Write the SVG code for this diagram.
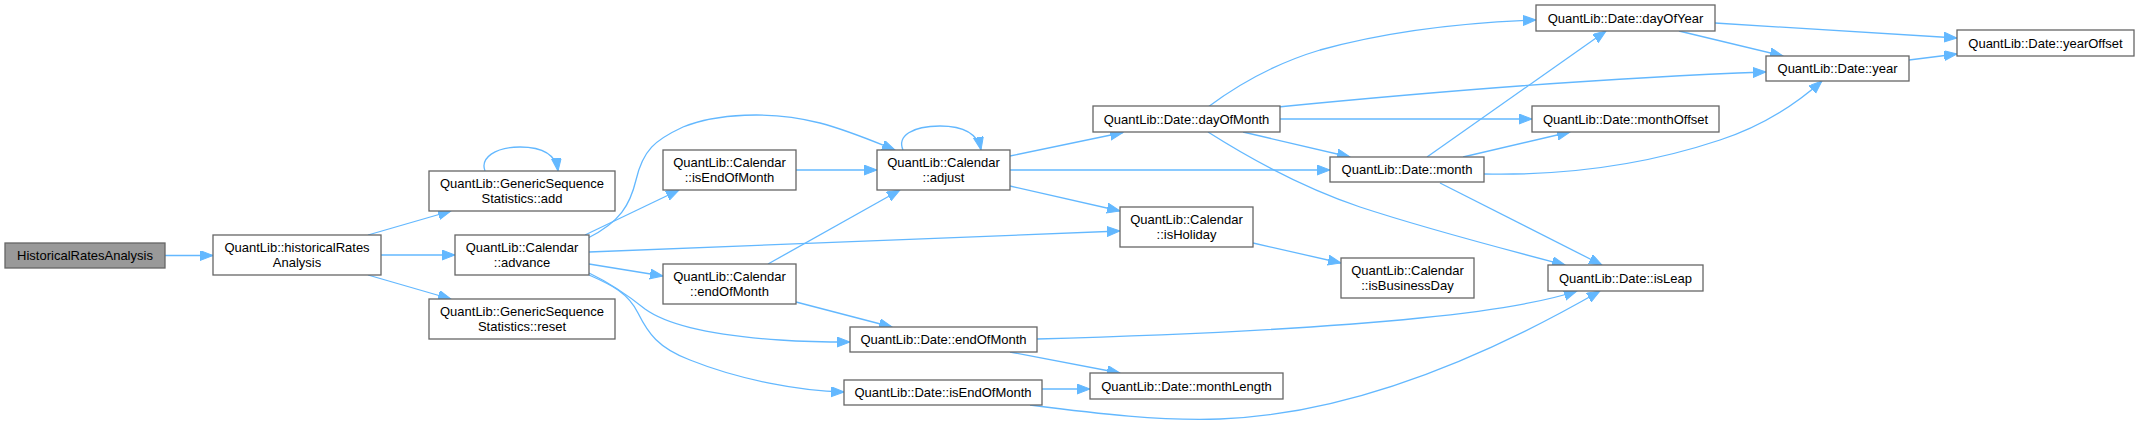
<svg xmlns="http://www.w3.org/2000/svg" width="2139" height="425" viewBox="0 0 2139 425">
<style>
.n rect{fill:#fff;stroke:#666;stroke-width:1.3}
.n.root rect{fill:#999}
.n text{font-family:"Liberation Sans",Arial,sans-serif;font-size:13px;fill:#000;text-anchor:middle}
.e path{fill:none;stroke:#63b8ff;stroke-width:1.3;marker-end:url(#ah)}
</style>
<defs>
<marker id="ah" markerUnits="userSpaceOnUse" markerWidth="14" markerHeight="11" refX="13" refY="5" orient="auto">
<path d="M0,0 L13,5 L0,10 z" fill="#63b8ff" stroke="#63b8ff" stroke-width="1"/>
</marker>
</defs>
<rect width="2139" height="425" fill="#fff"/>
<g id="edges" class="e">
<path d="M165,255.5 L213,255.5"/>
<path d="M368,235 L451,211"/>
<path d="M381,255 L455,255"/>
<path d="M368,275 L451,299"/>
<path d="M485,171 C480,158 495,147 520,147 C543,147 556,155 558,171"/>
<path d="M585,235 L679,190"/>
<path d="M588,238 C620,222 630,205 636,180 C643,150 655,140 683,127 C715,114 770,110 820,123 C850,131 875,142 895,150"/>
<path d="M589,252 L1120,231"/>
<path d="M589,264 L663,276"/>
<path d="M589,273 C610,283 625,293 645,309 C670,327 720,336 780,340 C810,342 830,342 850,342"/>
<path d="M589,275 C612,285 628,293 638,313 C648,333 658,348 690,360 C740,380 800,391 844,392"/>
<path d="M796,170 L877,170"/>
<path d="M768,264 L900,190"/>
<path d="M796,302 L892,327"/>
<path d="M903,150 C897,136 912,126 940,126 C965,126 978,135 981,150"/>
<path d="M1010,156 L1123,132.5"/>
<path d="M1010,170 L1330,170"/>
<path d="M1010,186 L1120,211"/>
<path d="M1253,243 L1341,263"/>
<path d="M1208,107 C1240,83 1280,62 1320,50 C1400,28 1480,22 1536,20"/>
<path d="M1278,107 C1400,95 1600,78 1766,72"/>
<path d="M1280,119 L1532,119"/>
<path d="M1243,132 L1350,157"/>
<path d="M1208,132 C1260,165 1310,190 1360,207 C1430,230 1500,248 1565,265"/>
<path d="M1427,157 L1606,31"/>
<path d="M1463,157 L1570,132"/>
<path d="M1484,174 C1580,176 1660,160 1720,140 C1760,127 1795,105 1822,81"/>
<path d="M1440,183 L1602,265"/>
<path d="M1715,23 L1957,38"/>
<path d="M1679,31 L1783,56"/>
<path d="M1909,60 L1957,54"/>
<path d="M1037,339 C1150,336 1300,330 1420,318 C1500,310 1550,300 1577,291"/>
<path d="M1010,352 L1120,373"/>
<path d="M1042,389 L1090,389"/>
<path d="M1030,405 C1100,414 1160,421 1220,419 C1350,414 1480,360 1600,291"/>
</g>
<g id="n1" class="n root"><rect x="5" y="243" width="160" height="25"/><text x="85" y="260">HistoricalRatesAnalysis</text></g>
<g id="n2" class="n"><rect x="213" y="235" width="168" height="40"/><text x="297" y="251.5">QuantLib::historicalRates</text><text x="297" y="266.5">Analysis</text></g>
<g id="n3" class="n"><rect x="429" y="171" width="186" height="40"/><text x="522" y="187.5">QuantLib::GenericSequence</text><text x="522" y="202.5">Statistics::add</text></g>
<g id="n4" class="n"><rect x="455" y="235" width="134" height="40"/><text x="522" y="251.5">QuantLib::Calendar</text><text x="522" y="266.5">::advance</text></g>
<g id="n5" class="n"><rect x="429" y="299" width="186" height="40"/><text x="522" y="315.5">QuantLib::GenericSequence</text><text x="522" y="330.5">Statistics::reset</text></g>
<g id="n6" class="n"><rect x="663" y="150" width="133" height="40"/><text x="729.5" y="166.5">QuantLib::Calendar</text><text x="729.5" y="181.5">::isEndOfMonth</text></g>
<g id="n7" class="n"><rect x="877" y="150" width="133" height="40"/><text x="943.5" y="166.5">QuantLib::Calendar</text><text x="943.5" y="181.5">::adjust</text></g>
<g id="n8" class="n"><rect x="663" y="264" width="133" height="40"/><text x="729.5" y="280.5">QuantLib::Calendar</text><text x="729.5" y="295.5">::endOfMonth</text></g>
<g id="n9" class="n"><rect x="850" y="327" width="187" height="25"/><text x="943.5" y="344">QuantLib::Date::endOfMonth</text></g>
<g id="n10" class="n"><rect x="844" y="380" width="198" height="25"/><text x="943" y="397">QuantLib::Date::isEndOfMonth</text></g>
<g id="n11" class="n"><rect x="1093" y="106" width="187" height="26"/><text x="1186.5" y="123.5">QuantLib::Date::dayOfMonth</text></g>
<g id="n12" class="n"><rect x="1120" y="207" width="133" height="40"/><text x="1186.5" y="223.5">QuantLib::Calendar</text><text x="1186.5" y="238.5">::isHoliday</text></g>
<g id="n13" class="n"><rect x="1090" y="373" width="193" height="26"/><text x="1186.5" y="390.5">QuantLib::Date::monthLength</text></g>
<g id="n14" class="n"><rect x="1330" y="157" width="154" height="25"/><text x="1407" y="174">QuantLib::Date::month</text></g>
<g id="n15" class="n"><rect x="1341" y="258" width="133" height="40"/><text x="1407.5" y="274.5">QuantLib::Calendar</text><text x="1407.5" y="289.5">::isBusinessDay</text></g>
<g id="n16" class="n"><rect x="1536" y="5" width="179" height="26"/><text x="1625.5" y="22.5">QuantLib::Date::dayOfYear</text></g>
<g id="n17" class="n"><rect x="1532" y="106" width="187" height="26"/><text x="1625.5" y="123.5">QuantLib::Date::monthOffset</text></g>
<g id="n18" class="n"><rect x="1766" y="56" width="143" height="25"/><text x="1837.5" y="73">QuantLib::Date::year</text></g>
<g id="n19" class="n"><rect x="1957" y="30" width="177" height="26"/><text x="2045.5" y="47.5">QuantLib::Date::yearOffset</text></g>
<g id="n20" class="n"><rect x="1548" y="265" width="155" height="26"/><text x="1625.5" y="282.5">QuantLib::Date::isLeap</text></g>
</svg>
